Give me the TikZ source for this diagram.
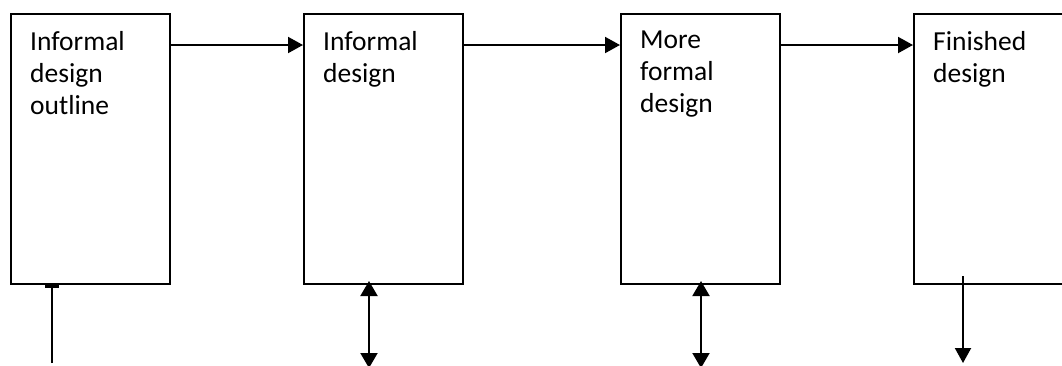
\documentclass[tikz,border=0pt]{standalone}
\usepackage{fontspec}
\setmainfont{Carlito}
\usetikzlibrary{arrows.meta,positioning,calc}
\tikzset{
  stage/.style={draw, line width=2bp, minimum width=159bp, minimum height=270bp, anchor=north west, inner sep=0pt},
  stagetext/.style={align=left, inner sep=0pt, font=\fontsize{27.5bp}{32bp}\selectfont},
  flow/.style={line width=2bp, -{Triangle[length=15bp,width=16bp]}},
  twoway/.style={line width=2bp, {Triangle[length=15bp,width=17bp]}-{Triangle[length=15bp,width=17bp]}}
}

\begin{document}
\begin{tikzpicture}[x=1bp,y=-1bp]
  \useasboundingbox (0,0) rectangle (1062,365);
  \clip (0,0) rectangle (1062,365);

  \node[stage] (b1) at (10,13) {};
  \node[stage] (b2) at (303,13) {};
  \node[stage] (b3) at (620,13) {};
  \node[stage] (b4) at (913,13) {};

  \node[stagetext, below right=18bp and 20bp of b1.north west] (t1) {Informal\\design\\outline};
  \node[stagetext, below right=18bp and 20bp of b2.north west] (t2) {Informal\\design};
  \node[stagetext, below right=18bp and 20bp of b3.north west] (t3) {More\\formal\\design};
  \node[stagetext, below right=18bp and 20bp of b4.north west] (t4) {Finished\\design};

  \draw[flow] ([yshift=-32bp]b1.north east) -- ([yshift=-32bp]b2.north west);
  \draw[flow] ([yshift=-32bp]b2.north east) -- ([yshift=-32bp]b3.north west);
  \draw[flow] ([yshift=-32bp]b3.north east) -- ([yshift=-32bp]b4.north west);

  \coordinate (in1) at (52,363);
  \coordinate (io2) at (369,368);
  \coordinate (io3) at (701,368);
  \coordinate (out4) at (963,363);

  \draw[line width=1.3bp, -{Bar[width=14bp,line width=3bp]}] (in1) -- (in1 |- b1.south);
  \draw[twoway] ([yshift=4bp]io2 |- b2.south) -- (io2);
  \draw[twoway] ([yshift=4bp]io3 |- b3.south) -- (io3);
  \draw[flow] ([yshift=9bp]out4 |- b4.south) -- (out4);
\end{tikzpicture}
\end{document}
